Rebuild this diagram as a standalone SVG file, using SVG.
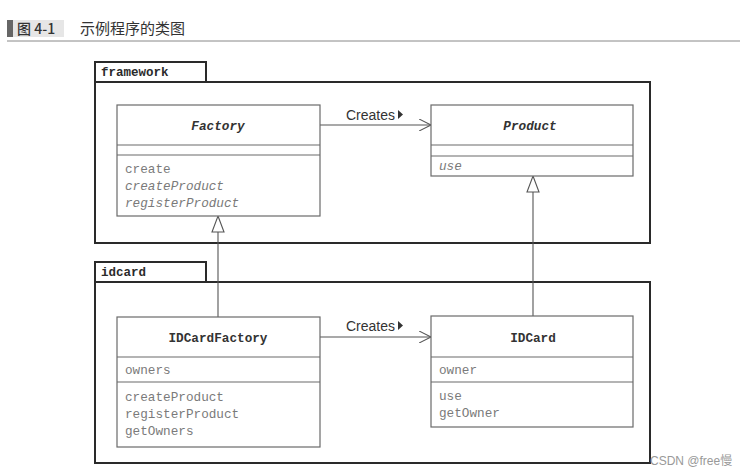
<svg xmlns="http://www.w3.org/2000/svg" width="747" height="475" viewBox="0 0 747 475">
<style>
.pkg{fill:none;stroke:#2a2a2a;stroke-width:2}
.cls{fill:#fff;stroke:#6a6a6a;stroke-width:1.2}
.div{stroke:#6a6a6a;stroke-width:1.2}
.pkgname{font-family:"Liberation Mono",monospace;font-weight:bold;font-size:12.5px;fill:#2a2a2a}
.cname{font-family:"Liberation Mono",monospace;font-weight:bold;font-size:12.7px;fill:#333;text-anchor:middle}
.ab{font-style:italic}
.mem{font-family:"Liberation Mono",monospace;font-size:12.7px;fill:#7a7a7a}
.lbl{font-family:"Liberation Sans",Arial,sans-serif;font-size:14px;fill:#333}
.ln{stroke:#555;stroke-width:1.1;fill:none}
.tri{fill:#fff;stroke:#555;stroke-width:1.1}
</style>
<defs>
<marker id="open" markerWidth="14" markerHeight="12" refX="12" refY="6" orient="auto" markerUnits="userSpaceOnUse">
<path d="M0,0 L12,6 L0,12" fill="none" stroke="#555" stroke-width="1.1"/>
</marker>
</defs>
<rect width="747" height="475" fill="#fff"/>
<g id="title">
<rect x="7" y="20" width="6" height="17" fill="#666"/>
<rect x="13" y="20" width="51" height="17" fill="#e6e6e6"/>
<text x="17" y="34" font-family="'Noto Sans CJK SC',sans-serif" font-size="14" font-weight="500" fill="#333">图 4-1</text>
<text x="80" y="34" font-family="'Noto Sans CJK SC',sans-serif" font-size="15" fill="#333">示例程序的类图</text>
<line x1="7" y1="41" x2="740" y2="41" stroke="#888" stroke-width="1"/>
</g>
<g id="pkg-framework">
<rect class="pkg" x="95" y="62" width="111" height="20"/>
<rect class="pkg" x="95" y="82" width="555" height="161"/>
<text class="pkgname" x="101" y="76">framework</text>
</g>
<g id="pkg-idcard">
<rect class="pkg" x="95" y="262" width="111" height="20"/>
<rect class="pkg" x="95" y="282" width="555" height="181"/>
<text class="pkgname" x="101" y="276">idcard</text>
</g>
<g id="connectors">
<line class="ln" x1="320" y1="125" x2="431" y2="125" marker-end="url(#open)"/>
<text class="lbl" x="346" y="120">Creates</text>
<path d="M398,110 L403,114.5 L398,119 Z" fill="#333"/>
<line class="ln" x1="320" y1="337" x2="431" y2="337" marker-end="url(#open)"/>
<text class="lbl" x="346" y="331">Creates</text>
<path d="M398,321 L403,325.5 L398,330 Z" fill="#333"/>
<line class="ln" x1="218" y1="317" x2="218" y2="232"/>
<path class="tri" d="M218,216 L224,232 L212,232 Z"/>
<line class="ln" x1="533" y1="316" x2="533" y2="192"/>
<path class="tri" d="M533,176 L539,192 L527,192 Z"/>
</g>
<g id="Factory">
<rect class="cls" x="117" y="105" width="203" height="111"/>
<line class="div" x1="117" y1="145" x2="320" y2="145"/>
<line class="div" x1="117" y1="155" x2="320" y2="155"/>
<text class="cname ab" x="218" y="130">Factory</text>
<text class="mem" x="125" y="173">create</text>
<text class="mem ab" x="125" y="190">createProduct</text>
<text class="mem ab" x="125" y="207">registerProduct</text>
</g>
<g id="Product">
<rect class="cls" x="431" y="105" width="202" height="71"/>
<line class="div" x1="431" y1="145" x2="633" y2="145"/>
<line class="div" x1="431" y1="156" x2="633" y2="156"/>
<text class="cname ab" x="530" y="130">Product</text>
<text class="mem ab" x="439" y="170">use</text>
</g>
<g id="IDCardFactory">
<rect class="cls" x="117" y="317" width="203" height="130"/>
<line class="div" x1="117" y1="357" x2="320" y2="357"/>
<line class="div" x1="117" y1="382" x2="320" y2="382"/>
<text class="cname" x="218" y="342">IDCardFactory</text>
<text class="mem" x="125" y="374">owners</text>
<text class="mem" x="125" y="401">createProduct</text>
<text class="mem" x="125" y="418">registerProduct</text>
<text class="mem" x="125" y="435">getOwners</text>
</g>
<g id="IDCard">
<rect class="cls" x="431" y="316" width="202" height="111"/>
<line class="div" x1="431" y1="357" x2="633" y2="357"/>
<line class="div" x1="431" y1="382" x2="633" y2="382"/>
<text class="cname" x="533" y="342">IDCard</text>
<text class="mem" x="439" y="374">owner</text>
<text class="mem" x="439" y="400">use</text>
<text class="mem" x="439" y="417">getOwner</text>
</g>
<text x="650" y="465" font-family="'Liberation Sans','Noto Sans CJK SC',sans-serif" font-size="12" fill="#999">CSDN @free慢</text>
</svg>
